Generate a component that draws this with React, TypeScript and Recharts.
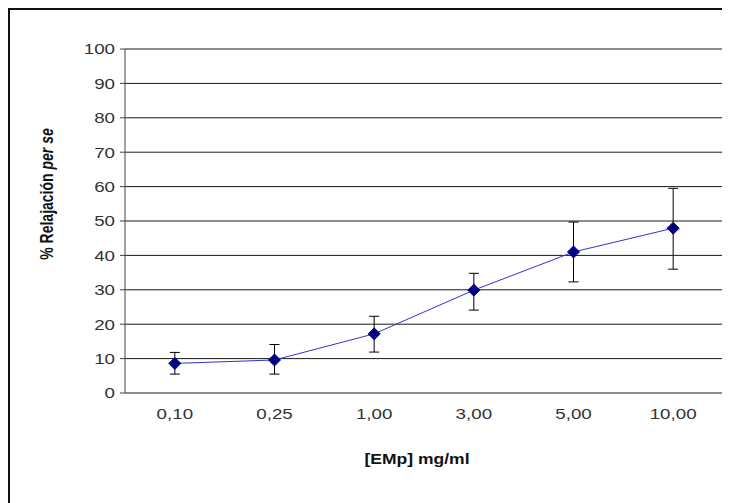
import React from "react";
import { ComposedChart, Line, XAxis, YAxis, CartesianGrid, ErrorBar } from "recharts";

const concentrations = ["0,10", "0,25", "1,00", "3,00", "5,00", "10,00"];
const relaxation = [8.6, 9.6, 17.2, 29.9, 41.0, 47.9];
const errLow = [3.1, 4.1, 5.3, 5.8, 8.7, 11.9];
const errHigh = [3.2, 4.5, 5.1, 4.9, 8.7, 11.6];
const yTicks = [0, 10, 20, 30, 40, 50, 60, 70, 80, 90, 100];
const boundaryTicks = [0, 1, 2, 3, 4, 5, 6];

const data = concentrations.map((c, i) => ({
  conc: c,
  value: relaxation[i],
  err: [errLow[i], errHigh[i]],
}));

const font = "'Liberation Sans', Arial, sans-serif";
const STRETCH = 1.25;

const Diamond = (props: any) => {
  const { cx, cy } = props;
  if (cx == null || cy == null) return null;
  const r = 6;
  return (
    <polygon
      points={`${cx},${cy - r} ${cx + r},${cy} ${cx},${cy + r} ${cx - r},${cy}`}
      fill="#000080"
      stroke="#000080"
    />
  );
};

const StretchTick = (props: any) => {
  const { x, y, payload, textAnchor, verticalAnchor } = props;
  const dy = verticalAnchor === "start" ? "0.71em" : "0.355em";
  return (
    <text
      x={x}
      y={y}
      dy={dy}
      textAnchor={textAnchor}
      fill="#333"
      fontSize={15}
      fontFamily={font}
      transform={`translate(${x},0) scale(${STRETCH},1) translate(${-x},0)`}
    >
      {payload.value}
    </text>
  );
};

export default function App() {
  return (
    <div
      style={{
        position: "relative",
        width: 722,
        height: 495,
        borderTop: "2px solid #111",
        borderLeft: "2px solid #111",
        overflow: "hidden",
        fontFamily: font,
      }}
    >
      <ComposedChart
        width={720}
        height={493}
        data={data}
        margin={{ top: 39, right: 7, left: 0, bottom: 0 }}
      >
        <CartesianGrid
          horizontal={true}
          vertical={false}
          stroke="#1a1a1a"
          strokeWidth={1}
          xAxisId="cat"
        />
        <XAxis
          xAxisId="grid"
          type="number"
          domain={[0, 6]}
          ticks={boundaryTicks}
          tick={false}
          tickSize={5}
          height={0}
          axisLine={{ stroke: "#333" }}
          tickLine={{ stroke: "#333" }}
        />
        <XAxis
          xAxisId="cat"
          dataKey="conc"
          type="category"
          scale="band"
          axisLine={false}
          tickLine={false}
          tickSize={0}
          tickMargin={15}
          height={110}
          interval={0}
          tick={<StretchTick />}
        />
        <YAxis
          type="number"
          domain={[0, 100]}
          ticks={yTicks}
          interval={0}
          width={115}
          tickSize={5}
          tickMargin={5}
          axisLine={{ stroke: "#444" }}
          tickLine={{ stroke: "#444" }}
          tick={<StretchTick />}
        />
        <Line
          xAxisId="cat"
          dataKey="value"
          stroke="#3333CC"
          strokeWidth={1}
          dot={<Diamond />}
          activeDot={false}
          isAnimationActive={false}
        >
          <ErrorBar dataKey="err" width={5} stroke="#000" strokeWidth={1} direction="y" />
        </Line>
      </ComposedChart>
      <div
        style={{
          position: "absolute",
          left: 37,
          top: 184,
          transform: `translate(-50%, -50%) scaleX(${STRETCH}) rotate(-90deg)`,
          whiteSpace: "nowrap",
          fontSize: 14,
          fontWeight: "bold",
          color: "#111",
          lineHeight: "16px",
        }}
      >
        % Relajación <i>per se</i>
      </div>
      <div
        style={{
          position: "absolute",
          left: 407,
          top: 449,
          transform: `translate(-50%, -50%) scaleX(${STRETCH})`,
          whiteSpace: "nowrap",
          fontSize: 14,
          fontWeight: "bold",
          color: "#111",
          lineHeight: "16px",
        }}
      >
        [EMp] mg/ml
      </div>
    </div>
  );
}
